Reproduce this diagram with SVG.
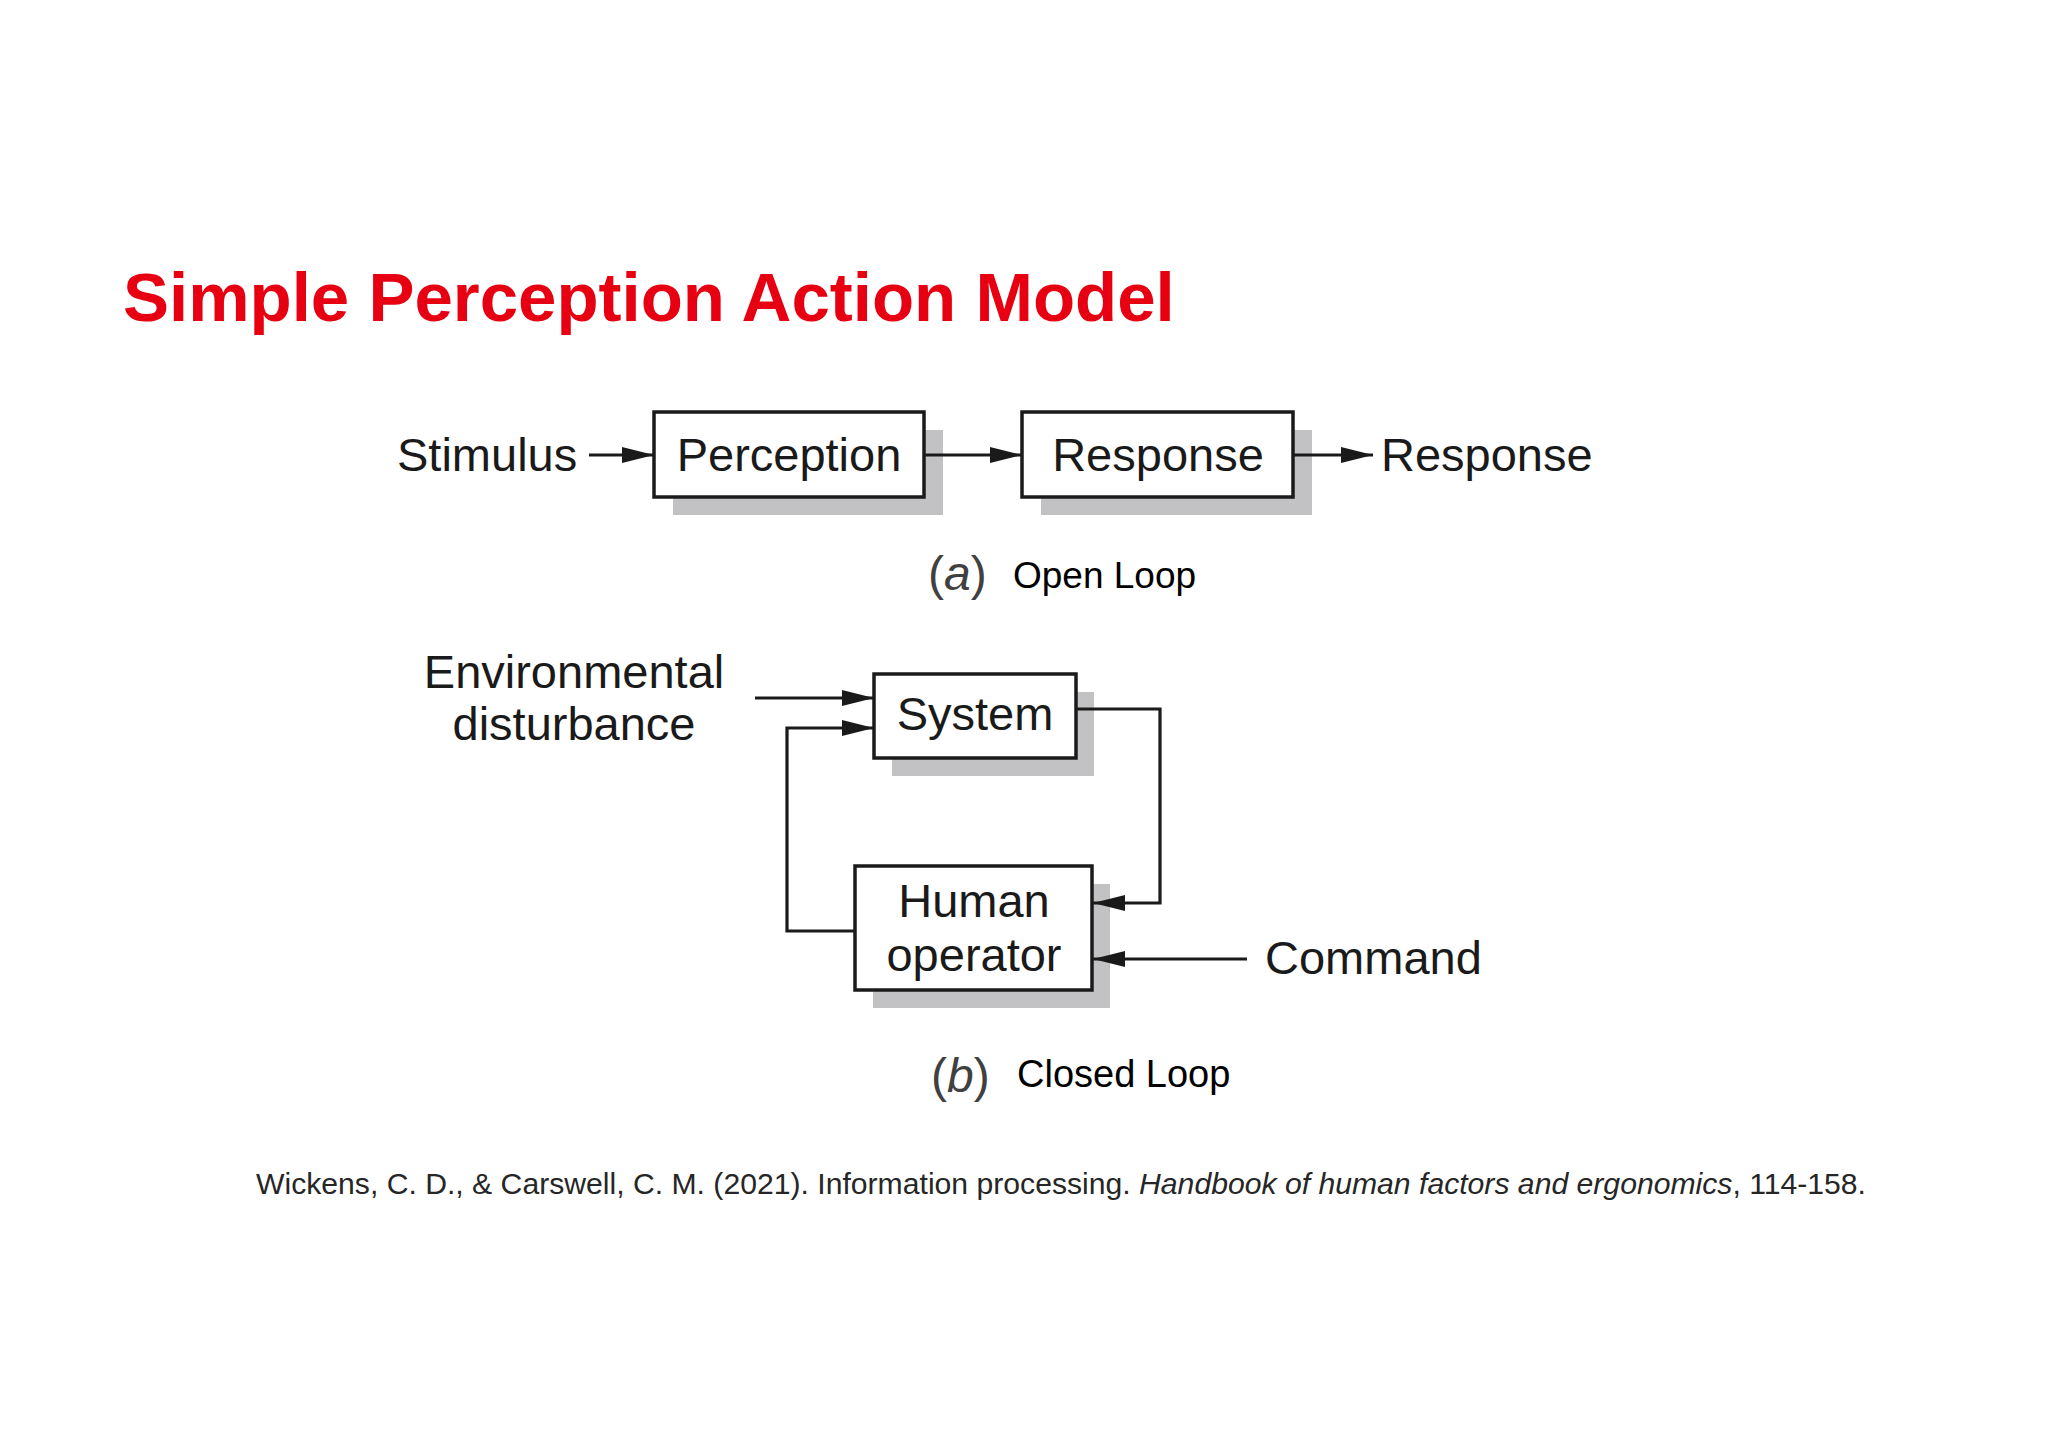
<svg xmlns="http://www.w3.org/2000/svg" width="2048" height="1448" viewBox="0 0 2048 1448">
<style>
.lbl{font-family:"Liberation Sans",Arial,Helvetica,sans-serif;font-size:47px;fill:#1a1a1a}
.box{fill:#ffffff;stroke:#1a1a1a;stroke-width:3.5}
.shadow{fill:#c2c2c4}
.conn{fill:none;stroke:#1a1a1a;stroke-width:3.2}
.cap{font-family:"Liberation Sans",Arial,Helvetica,sans-serif;fill:#000}
</style>
<defs>
<marker id="ah" markerUnits="userSpaceOnUse" markerWidth="32" markerHeight="16" refX="32" refY="8" orient="auto">
<path d="M0,0 L32,8 L0,16 Z" fill="#1a1a1a"/>
</marker>
</defs>
<rect width="2048" height="1448" fill="#ffffff"/>
<text x="123" y="321" font-family="Liberation Sans,Arial,sans-serif" font-weight="bold" font-size="69" fill="#e60012">Simple Perception Action Model</text>

<g id="stimulus"><text class="lbl" x="397" y="471">Stimulus</text></g>
<g id="perception">
<rect class="shadow" x="673" y="430" width="270" height="85"/>
<rect class="box" x="654" y="412" width="270" height="85"/>
<text class="lbl" x="789" y="471" text-anchor="middle">Perception</text>
</g>
<g id="response-box">
<rect class="shadow" x="1041" y="430" width="271" height="85"/>
<rect class="box" x="1022" y="412" width="271" height="85"/>
<text class="lbl" x="1158" y="471" text-anchor="middle">Response</text>
</g>
<g id="response-out"><text class="lbl" x="1381" y="471">Response</text></g>
<g id="caption-a">
<text class="cap" x="928" y="590" font-size="48" fill="#404040"><tspan fill="#404040">(</tspan><tspan font-style="italic" fill="#404040">a</tspan><tspan fill="#404040">)</tspan></text>
<text class="cap" x="1013" y="588" font-size="37">Open Loop</text>
</g>

<g id="env"><text class="lbl" text-anchor="middle" font-size="48"><tspan x="574" y="688">Environmental</tspan><tspan x="574" y="740">disturbance</tspan></text></g>
<g id="system">
<rect class="shadow" x="892" y="692" width="202" height="84"/>
<rect class="box" x="874" y="674" width="202" height="84"/>
<text class="lbl" x="975" y="730" text-anchor="middle">System</text>
</g>
<g id="human">
<rect class="shadow" x="873" y="884" width="237" height="124"/>
<rect class="box" x="855" y="866" width="237" height="124"/>
<text class="lbl" text-anchor="middle"><tspan x="974" y="917">Human</tspan><tspan x="974" y="971">operator</tspan></text>
</g>
<g id="command"><text class="lbl" x="1265" y="974">Command</text></g>
<g id="caption-b">
<text class="cap" x="931" y="1092" font-size="48" fill="#404040"><tspan fill="#404040">(</tspan><tspan font-style="italic" fill="#404040">b</tspan><tspan fill="#404040">)</tspan></text>
<text class="cap" x="1017" y="1087" font-size="38">Closed Loop</text>
</g>

<g id="connectors">
<line class="conn" x1="589" y1="455" x2="654" y2="455" marker-end="url(#ah)"/>
<line class="conn" x1="924" y1="455" x2="1022" y2="455" marker-end="url(#ah)"/>
<line class="conn" x1="1293" y1="455" x2="1373" y2="455" marker-end="url(#ah)"/>
<line class="conn" x1="755" y1="698" x2="874" y2="698" marker-end="url(#ah)"/>
<polyline class="conn" points="855,931 787,931 787,728 874,728" marker-end="url(#ah)"/>
<polyline class="conn" points="1076,709 1160,709 1160,903 1093,903" marker-end="url(#ah)"/>
<line class="conn" x1="1247" y1="959" x2="1093" y2="959" marker-end="url(#ah)"/>
</g>

<g id="citation"><text x="256" y="1194" font-family="Liberation Sans,Arial,sans-serif" font-size="30" fill="#262626" textLength="1610" lengthAdjust="spacingAndGlyphs">Wickens, C. D., &amp; Carswell, C. M. (2021). Information processing. <tspan font-style="italic">Handbook of human factors and ergonomics</tspan>, 114-158.</text></g>
</svg>
